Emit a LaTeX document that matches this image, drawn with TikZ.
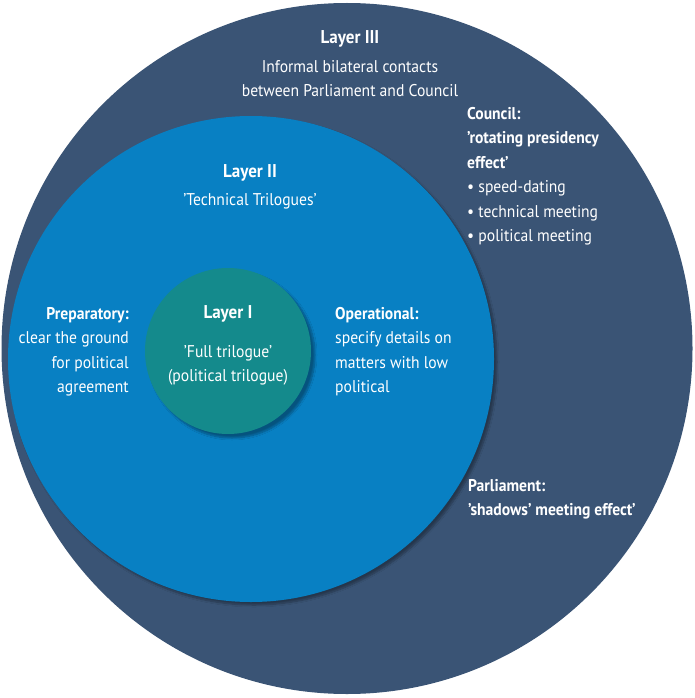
\documentclass[tikz,border=0pt]{standalone}
\usepackage{fontspec}
\setmainfont[FakeStretch=0.92]{PT Sans}
\usetikzlibrary{shadows.blur}
\definecolor{outerc}{RGB}{58,84,117}
\definecolor{midc}{RGB}{8,128,195}
\definecolor{innerc}{RGB}{20,138,140}
\newcommand{\sq}{\char"0027\relax}
\begin{document}
\begin{tikzpicture}[x=1pt,y=-1pt,
  txt/.style={text=white,font=\fontsize{17}{24}\selectfont,inner sep=0pt},
  ttl/.style={text=white,font=\fontsize{18.5}{24}\selectfont\bfseries,inner sep=0pt},
  lbl/.style={text=white,font=\fontsize{17}{24.5}\selectfont,inner sep=0pt}]
\useasboundingbox (0,0) rectangle (695,698);
\fill[white] (0,0) rectangle (695,698);
\fill[outerc] (347,348.5) circle (345.5);
\fill[midc, blur shadow={shadow xshift=3pt,shadow yshift=-3pt,shadow blur steps=8,shadow opacity=35}] (251,359) circle (243);
\fill[innerc, blur shadow={shadow xshift=4pt,shadow yshift=-4pt,shadow blur steps=8,shadow opacity=35}] (228,351) circle (83);
% Layer III
\node[ttl] (l3) at (350,39) {Layer III};
\node[txt, align=center, anchor=north] (l3t) at (350,60) {Informal bilateral contacts\\between Parliament and Council};
% Council
\node[lbl, align=left, anchor=north west] (council) at (467,107) {\textbf{Council:}\\\textbf{\sq rotating presidency}\\\textbf{effect\sq}\\\textbullet\ speed-dating\\\textbullet\ technical meeting\\\textbullet\ political meeting};
% Layer II
\node[ttl] (l2) at (250,173) {Layer II};
\node[txt] (l2t) at (250,201) {\sq Technical Trilogues\sq};
% Preparatory
\node[lbl, align=right, anchor=north east] (prep) at (129,307) {\textbf{Preparatory:}\\clear the ground\\for political\\agreement};
% Layer I
\node[ttl] (l1) at (228,314) {Layer I};
\node[txt, align=center, anchor=north] (l1t) at (228,345) {\sq Full trilogue\sq\\(political trilogue)};
% Operational
\node[lbl, align=left, anchor=north west] (oper) at (335,307) {\textbf{Operational:}\\specify details on\\matters with low\\political};
% Parliament
\node[lbl, align=left, anchor=north west] (parl) at (468,479) {\textbf{Parliament:}\\\textbf{\sq shadows\sq{} meeting effect\sq}};
\end{tikzpicture}
\end{document}
